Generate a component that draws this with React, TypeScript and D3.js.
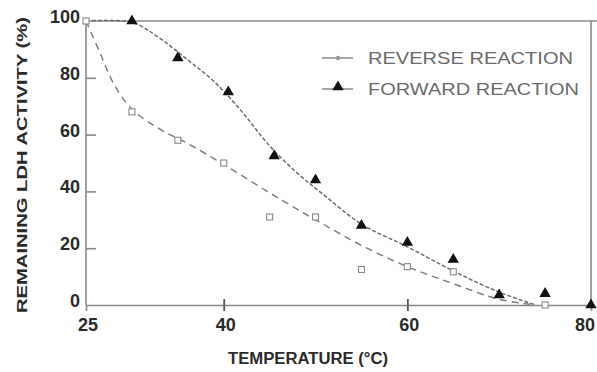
import React, { useEffect, useRef } from 'react'
import * as d3 from 'd3'

// measured points
const forwardTemp = [30, 35, 40.5, 45.5, 50, 55, 60, 65, 70, 75, 80]
const forwardActivity = [100, 87, 75, 52.5, 44, 28, 22, 16, 3.5, 4, 0]
const reverseTemp = [25, 30, 35, 40, 45, 50, 55, 60, 65, 75]
const reverseActivity = [100, 68, 58, 50, 31, 31, 12.5, 13.5, 11.7, 0]

// fitted curves as drawn in the figure
const forwardCurveTemp = [25, 30, 33, 36, 39, 42, 45, 48, 51, 55, 60, 65, 70, 74]
const forwardCurveActivity = [100, 99.5, 94, 86.5, 78.5, 68, 56, 46.5, 38.5, 28.5, 20.5, 12, 4.5, 0]
const reverseCurveTemp = [25, 26.5, 28, 30, 33, 36, 40, 45, 50, 55, 60, 65, 70, 74]
const reverseCurveActivity = [100, 89, 78, 69, 62, 57, 49.5, 39.5, 30, 21, 13.5, 7.5, 2, 0]

const xTickLabels = [25, 40, 60, 80]
const xTickMarks = [40, 60]
const yTickLabels = [0, 20, 40, 60, 80, 100]
const yTickMarks = [20, 40, 60, 80]

const legendLabels = ['REVERSE REACTION', 'FORWARD REACTION']

const App = () => {
  const refSvg = useRef<SVGSVGElement>(null)

  const draw = () => {
    const svg = d3.select(refSvg.current)
    svg.selectAll('*').remove()

    const x = d3.scaleLinear().domain([25, 80]).range([86, 591])
    const y = d3.scaleLinear().domain([0, 100]).range([305, 21])
    const axisColor = '#888'
    const textColor = '#2a2a2a'

    // frame
    svg.append('line').attr('x1', x(25)).attr('x2', 597).attr('y1', y(100)).attr('y2', y(100))
      .attr('stroke', axisColor).attr('stroke-width', 1.6)
    svg.append('line').attr('x1', x(80)).attr('x2', x(80)).attr('y1', y(100)).attr('y2', y(0))
      .attr('stroke', axisColor).attr('stroke-width', 1.6)

    // y axis, ticks inward
    const gy = svg.append('g').attr('transform', `translate(${x(25)},0)`)
      .call(d3.axisRight(y).tickValues(yTickMarks).tickSize(10).tickFormat(() => ''))
    gy.select('.domain').remove()
    gy.selectAll('.tick line').attr('stroke', axisColor).attr('stroke-width', 1.6)
    svg.append('line').attr('x1', x(25)).attr('x2', x(25)).attr('y1', y(100)).attr('y2', y(0))
      .attr('stroke', axisColor).attr('stroke-width', 1.6)

    // x axis, ticks crossing
    const gx = svg.append('g').attr('transform', `translate(0,${y(0)})`)
      .call(d3.axisBottom(x).tickValues(xTickMarks).tickSize(6).tickFormat(() => ''))
    gx.select('.domain').attr('stroke', axisColor).attr('stroke-width', 1.6)
    gx.selectAll('.tick line').attr('y1', -6).attr('stroke', '#555').attr('stroke-width', 1.8)

    // tick labels
    svg.append('g').selectAll('text').data(yTickLabels).enter().append('text')
      .attr('x', 80).attr('y', (d) => y(d) + 2)
      .attr('text-anchor', 'end')
      .attr('font-family', 'Liberation Sans, Arial, sans-serif')
      .attr('font-size', 18).attr('font-weight', 'bold').attr('fill', textColor)
      .text((d) => d)

    svg.append('g').selectAll('text').data(xTickLabels).enter().append('text')
      .attr('x', (d) => Math.min(x(d) + 2, 585)).attr('y', 331)
      .attr('text-anchor', 'middle')
      .attr('font-family', 'Liberation Sans, Arial, sans-serif')
      .attr('font-size', 18).attr('font-weight', 'bold').attr('fill', textColor)
      .text((d) => d)

    // axis titles
    svg.append('text').attr('x', 228).attr('y', 364)
      .attr('font-family', 'Liberation Sans, Arial, sans-serif')
      .attr('font-size', 16).attr('font-weight', 'bold').attr('fill', textColor)
      .attr('textLength', 160).attr('lengthAdjust', 'spacingAndGlyphs')
      .text('TEMPERATURE (°C)')
    svg.append('text').attr('transform', 'translate(27,165) rotate(-90)')
      .attr('text-anchor', 'middle')
      .attr('font-family', 'Liberation Sans, Arial, sans-serif')
      .attr('font-size', 15).attr('font-weight', 'bold').attr('fill', textColor)
      .attr('textLength', 296).attr('lengthAdjust', 'spacingAndGlyphs')
      .text('REMAINING LDH ACTIVITY (%)')

    // curves
    const line = d3.line<[number, number]>()
      .x((d) => x(d[0])).y((d) => y(d[1]))
      .curve(d3.curveCatmullRom.alpha(0.5))
    svg.append('path')
      .attr('d', line(reverseCurveTemp.map((t, i) => [t, reverseCurveActivity[i]]) as [number, number][]))
      .attr('fill', 'none').attr('stroke', '#777').attr('stroke-width', 1.4)
      .attr('stroke-dasharray', '7,5')
    svg.append('path')
      .attr('d', line(forwardCurveTemp.map((t, i) => [t, forwardCurveActivity[i]]) as [number, number][]))
      .attr('fill', 'none').attr('stroke', '#666').attr('stroke-width', 1.4)
      .attr('stroke-dasharray', '4,2')

    // markers
    const tri = d3.symbol().type(d3.symbolTriangle).size(56)
    svg.append('g').selectAll('rect').data(reverseTemp).enter().append('rect')
      .attr('x', (d) => x(d) - 3).attr('y', (d, i) => y(reverseActivity[i]) - 3)
      .attr('width', 6).attr('height', 6)
      .attr('fill', 'white').attr('stroke', '#888').attr('stroke-width', 1.1)
    svg.append('g').selectAll('path').data(forwardTemp).enter().append('path')
      .attr('d', tri)
      .attr('transform', (d, i) => `translate(${x(d)},${y(forwardActivity[i])})`)
      .attr('fill', '#111')

    // legend
    const lg = svg.append('g')
    lg.append('line').attr('x1', 322).attr('x2', 353).attr('y1', 58).attr('y2', 58)
      .attr('stroke', '#888').attr('stroke-width', 1.5)
    lg.append('circle').attr('cx', 338).attr('cy', 58).attr('r', 2.2).attr('fill', '#999')
    lg.append('line').attr('x1', 322).attr('x2', 353).attr('y1', 89).attr('y2', 89)
      .attr('stroke', '#888').attr('stroke-width', 1.5)
    lg.append('path').attr('d', tri).attr('transform', 'translate(338,87)').attr('fill', '#111')
    lg.selectAll('text').data(legendLabels).enter().append('text')
      .attr('x', 368).attr('y', (d, i) => 64 + i * 31)
      .attr('font-family', 'Liberation Sans, Arial, sans-serif')
      .attr('font-size', 17).attr('fill', '#6a6a6a')
      .attr('textLength', (d, i) => (i === 0 ? 205 : 211)).attr('lengthAdjust', 'spacingAndGlyphs')
      .text((d) => d)
  }

  useEffect(() => {
    if (refSvg.current) {
      draw()
    }
  })

  return (
    <svg ref={refSvg} width={597} height={372}
      style={{ position: 'absolute', left: 0, top: 0, background: 'white' }} />
  )
}

export default App
